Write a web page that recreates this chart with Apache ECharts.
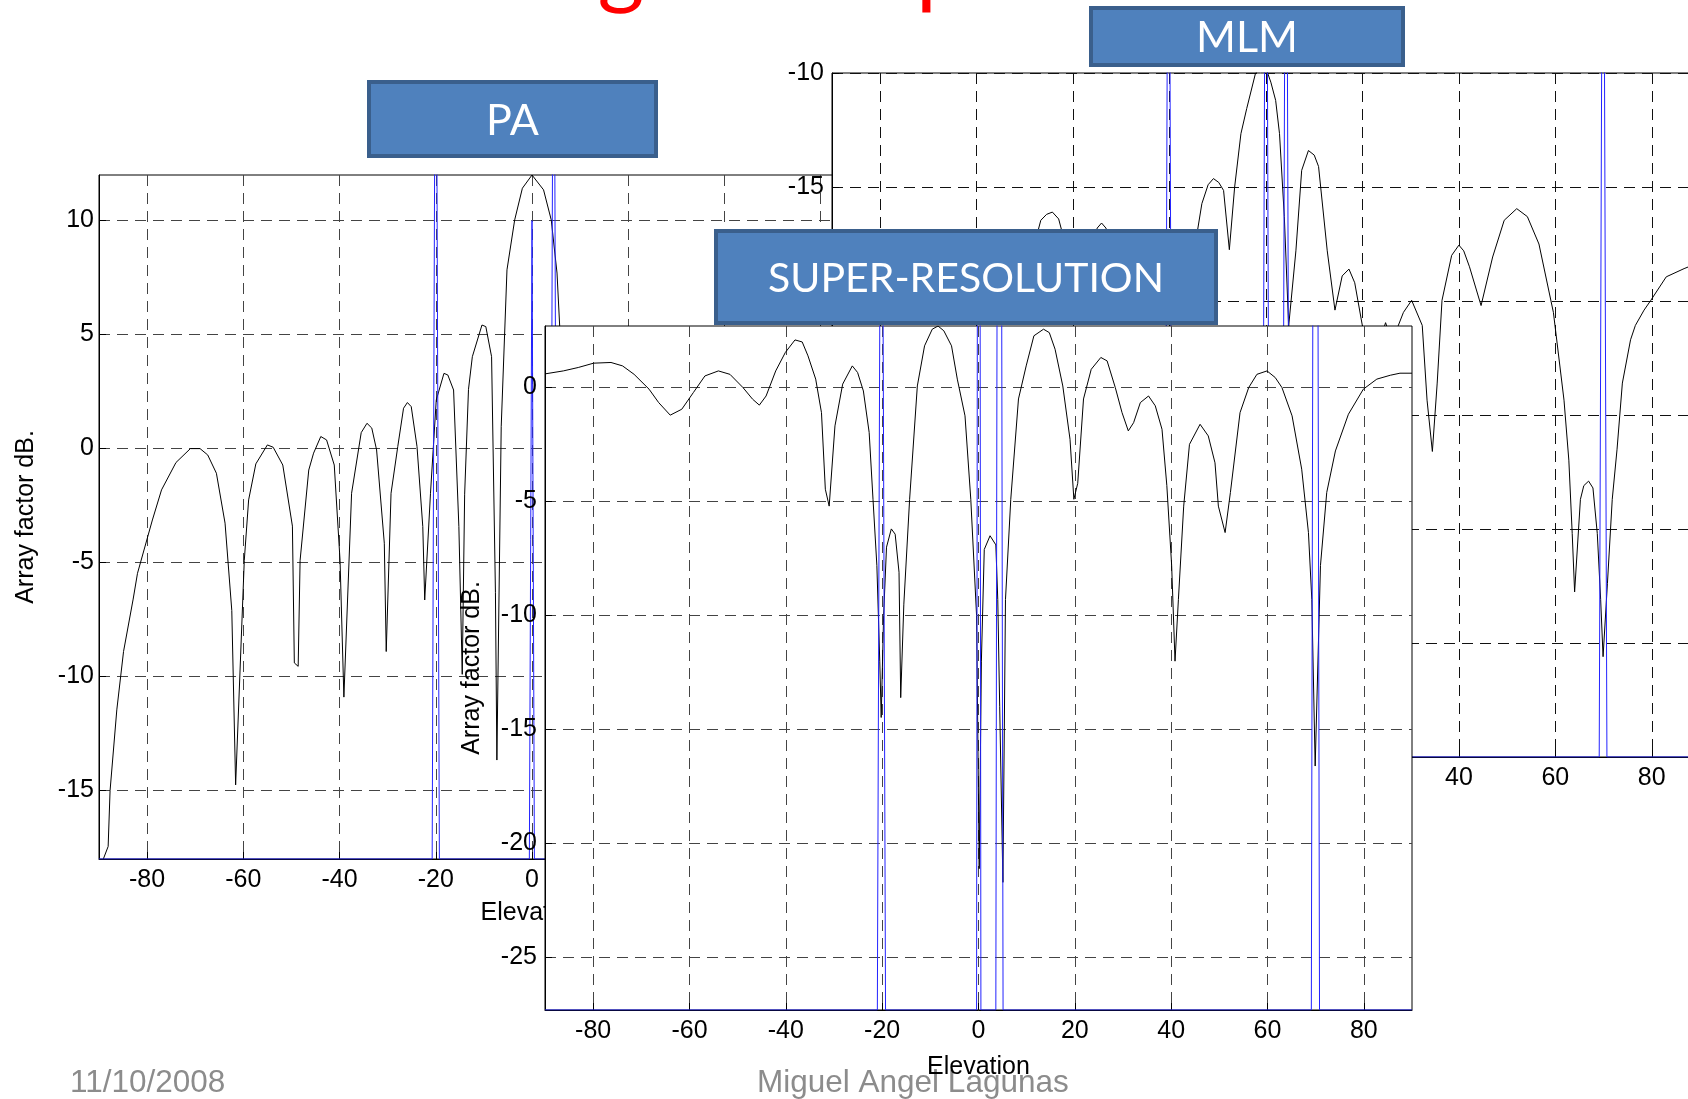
<!DOCTYPE html>
<html>
<head>
<meta charset="utf-8">
<script src="https://cdn.jsdelivr.net/npm/echarts@6.0.0/dist/echarts.min.js"></script>
<style>
html, body { margin: 0; padding: 0; background: #fff; }
.layer { position: absolute; left: 0; top: 0; width: 1688px; height: 1099px; }
</style>
</head>
<body>
<div id="pa" class="layer"></div>
<div id="mlm" class="layer"></div>
<div id="sr" class="layer"></div>
<script>
// elevation ticks, shared by the three plots
const elevTicks = [-80, -60, -40, -20, 0, 20, 40, 60, 80];
const paTicks = [-15, -10, -5, 0, 5, 10];
const mlmTicks = [-40, -35, -30, -25, -20, -15, -10];
const srTicks = [-25, -20, -15, -10, -5, 0];

// PA (delay and sum) array factor, dB
const paCurve = [
  [-89.1, -18], [-88.1, -17.45], [-87.7, -15], [-86.3, -11.46], [-84.9, -8.9], [-82.9, -6.6], [-82, -5.47],
  [-78.9, -3.13], [-77, -1.81], [-74, -0.61], [-71, 0], [-69, 0], [-67.4, -0.28], [-65.6, -1.08], [-63.8, -3.27],
  [-62.4, -7.1], [-61.6, -14.75], [-59.8, -4.9], [-58.9, -2.25], [-57.4, -0.67], [-55, 0.16], [-53.8, 0.06],
  [-51.8, -0.72], [-49.8, -3.4], [-49.4, -9.4], [-48.6, -9.55], [-48.2, -4.9], [-46.4, -0.94], [-45.4, -0.2],
  [-43.9, 0.53], [-42.7, 0.38], [-41.1, -0.72], [-39.9, -4.9], [-39.1, -10.9], [-37.5, -1.96], [-35.5, 0.7],
  [-34.3, 1.11], [-33.3, 0.9], [-32.3, -0.06], [-30.7, -4.15], [-30.3, -8.9], [-29.3, -1.96], [-27.9, 0.09],
  [-26.7, 1.77], [-25.9, 2.02], [-25.1, 1.84], [-23.9, 0.09], [-22.7, -3.42], [-22.3, -6.64], [-21.1, -1.96],
  [-19.9, 2.13], [-18.3, 3.3], [-17.5, 3.23], [-16.3, 2.57], [-15.2, -3.42], [-14.8, -7.08], [-14.5, -9.9],
  [-14, -2], [-13.2, 2.6], [-12.4, 4.03], [-10.4, 5.42], [-9.6, 5.35], [-8.4, 4.03], [-7.6, -6.3], [-7.3, -13.66],
  [-6.4, 0.96], [-5.2, 7.84], [-3.6, 10.03], [-2, 11.42], [0, 12], [2.4, 11.35], [4, 10.03], [5.2, 7.7],
  [6.2, 3.5], [7, -3]
];
const paTruth = [
  [-90, -18], [-20.75, -18], [-20, 27], [-19.25, -18], [-0.55, -18], [0, 10], [0.5, -18],
  [3.75, -18], [4.5, 27], [5.25, -18], [69.25, -18], [70, 27], [70.75, -18], [90, -18]
];

// MLM (Capon) spectrum, dB
const mlmCurve = [
  [-48, -17.5], [-46.7, -16.46], [-45.5, -16.2], [-44.3, -16.1], [-43, -16.4], [-42, -17.2],
  [-36, -17.5], [-35, -16.8], [-34.1, -16.58], [-33.2, -16.8], [-32, -17.5],
  [-14.5, -17.3], [-13.3, -15.73], [-12, -14.9], [-10.9, -14.63], [-9.8, -14.8], [-8.8, -15.15], [-7.6, -17.75],
  [-6.5, -15], [-5.2, -12.66], [-4, -11.56], [-2.2, -10.03], [-1, -9.7], [0, -9.8], [1, -10.4], [2, -11.2],
  [2.8, -12.66], [3.8, -16.3], [4.7, -21.1], [6.2, -17.8], [7.4, -14.27], [8.8, -13.4], [10, -13.6],
  [10.9, -14.1], [12.7, -17.8], [14.3, -20.4], [15.8, -18.9], [17.2, -18.6], [18.4, -19.2], [20, -21.1],
  [23.8, -21.6], [24.8, -20.95], [25.8, -21.6], [27.2, -21.2], [28.5, -20.5], [30.2, -19.97], [32.4, -21.07],
  [33.4, -24.35], [34.5, -26.6], [35.5, -23.6], [36.5, -19.97], [38.5, -18], [40, -17.55], [41, -17.8],
  [42.2, -18.5], [44.6, -20.2], [47, -18.07], [49.4, -16.46], [52, -15.95], [54.2, -16.3], [56.6, -17.5],
  [59.6, -20.5], [61.8, -24.35], [62.8, -26.98], [63.5, -30.2], [64, -32.76], [65.2, -28.7], [65.9, -28.1],
  [66.9, -27.9], [67.8, -28.2], [68.7, -30.2], [69.4, -33.1], [69.9, -35.6], [70.8, -32.4], [71.8, -28.7],
  [72.8, -26.5], [73.9, -23.6], [75.6, -21.7], [76.6, -21.07], [78.4, -20.4], [79.8, -19.97], [83, -18.94],
  [86.7, -18.58], [90, -18.3]
];
const mlmTruth = [
  [-90, -40], [-21, -40], [-20.2, 8], [-19.4, -40], [-0.8, -40], [0, 8], [0.8, -40],
  [3.35, -40], [4.15, 8], [4.95, -40], [69.1, -40], [69.9, 8], [70.7, -40], [90, -40]
];

// super-resolution spectrum, dB
const srCurve = [
  [-90, 0.6], [-86.2, 0.73], [-83.1, 0.88], [-79.9, 1.07], [-76.3, 1.1], [-73.9, 0.95], [-71.5, 0.58],
  [-68.4, -0.07], [-66.4, -0.66], [-64, -1.21], [-61.6, -0.95], [-59.2, -0.22], [-56.8, 0.51], [-54, 0.73],
  [-51.6, 0.58], [-48.9, 0], [-46.9, -0.51], [-45.5, -0.77], [-44.1, -0.37], [-42.1, 0.73], [-40.1, 1.54],
  [-38.1, 2.09], [-36.6, 2.0], [-35.4, 1.39], [-33.8, 0.37], [-32.6, -1.1], [-31.8, -4.46], [-31, -5.2],
  [-29.8, -1.68], [-28.2, 0.15], [-26.2, 0.95], [-25.1, 0.66], [-23.9, -0.15], [-22.7, -1.97], [-21.9, -4.9],
  [-21.1, -7.8], [-20.5, -12], [-20.2, -14.47], [-19.7, -10], [-19.1, -7.0], [-18.1, -6.2], [-17.3, -6.43],
  [-16.5, -8.1], [-16.15, -13.6], [-15.5, -9.5], [-14.3, -4.9], [-12.7, 0.07], [-11.2, 1.83], [-9.6, 2.56],
  [-8.4, 2.7], [-7.2, 2.49], [-5.6, 1.83], [-4.4, 0.37], [-2.8, -1.24], [-1.6, -4.9], [-0.4, -10],
  [0.15, -21.1], [0.6, -12], [1.2, -7.1], [2.4, -6.5], [3.6, -6.9], [4, -9.3], [4.4, -14], [5.07, -21.7],
  [5.6, -9.3], [6.7, -4.9], [8.3, -0.5], [9.9, 0.95], [11.5, 2.27], [13.5, 2.56], [14.7, 2.41], [15.9, 1.68],
  [17.5, 0.07], [19, -2.27], [19.8, -4.9], [20.6, -4.2], [21.8, -0.5], [23.4, 0.8], [25.4, 1.32], [26.7, 1.17],
  [28.4, 0], [29.8, -1.1], [31.1, -1.9], [32.2, -1.54], [33.6, -0.66], [35.3, -0.37], [36.7, -0.8],
  [38.1, -1.83], [39.1, -4.3], [40.1, -7.8], [40.8, -12.0], [41.5, -9.3], [42.6, -5.2], [43.8, -2.49],
  [46, -1.61], [47.7, -2.12], [49.1, -3.3], [49.8, -5.2], [51.2, -6.36], [52.3, -4.6], [54.3, -1.1],
  [56.1, 0], [57.8, 0.58], [59.9, 0.73], [61.6, 0.44], [63, 0], [65.1, -1.24], [67.1, -3.58], [68.5, -6.36],
  [69.2, -9.3], [69.9, -16.6], [71, -7.8], [72.3, -4.6], [74.1, -2.78], [76.8, -1.17], [79.9, -0.07],
  [82.7, 0.37], [85.5, 0.54], [87.5, 0.63], [90, 0.63]
];
const srTruth = [
  [-90, -27.3], [-21, -27.3], [-20.15, 23.7], [-19.3, -27.3], [-0.4, -27.3], [0.05, 60], [0.5, -27.3],
  [3.6, -27.3], [4.3, 60], [5.1, -27.3], [69.1, -27.3], [69.95, 57], [70.8, -27.3], [90, -27.3]
];

const FONT = '"Liberation Sans", Arial, sans-serif';
const BOX_FONT = 'Lato, "Open Sans", sans-serif';

function titleBox(x, y, w, h, text, size) {
  return {
    type: 'group',
    children: [
      { type: 'rect', shape: { x: x + 2, y: y + 2, width: w - 4, height: h - 4 },
        style: { fill: '#4F81BD', stroke: '#3A5F8C', lineWidth: 4 } },
      { type: 'text', x: x + w / 2, y: y + h / 2 + 2,
        style: { text: text, fill: '#fff', fontSize: size, fontFamily: BOX_FONT, align: 'center', verticalAlign: 'middle' } }
    ]
  };
}

function plainText(x, y, text, size, color, align) {
  return {
    type: 'text', x: x, y: y,
    style: { text: text, fill: color, fontSize: size, fontFamily: FONT, align: align || 'left', verticalAlign: 'middle' }
  };
}

// 一个 matlab 风格的图
function plot(dom, p) {
  let chart = echarts.init(dom, null, { renderer: 'canvas' });
  let split = { show: true, lineStyle: { color: p.gridColor, type: [11, 7], width: 1 } };
  let label = { color: '#000', fontSize: 25, fontFamily: FONT };
  chart.setOption({
    backgroundColor: p.bg || 'transparent',
    animation: false,
    grid: Object.assign({
      show: true, backgroundColor: '#fff', borderColor: '#000', borderWidth: 1,
      containLabel: false, outerBoundsMode: 'none'
    }, p.grid),
    xAxis: {
      type: 'value', min: -90, max: 90,
      axisLine: { show: true, onZero: false, lineStyle: { color: '#000', width: 1 } },
      axisTick: { show: true, inside: true, length: 7, customValues: elevTicks, lineStyle: { color: '#000' } },
      axisLabel: Object.assign({ customValues: elevTicks, margin: 9, showMinLabel: true, showMaxLabel: true }, label),
      splitLine: split,
      name: 'Elevation', nameLocation: 'middle', nameGap: p.xNameGap, nameTextStyle: label
    },
    yAxis: {
      type: 'value', min: p.yMin, max: p.yMax,
      axisLine: { show: true, onZero: false, lineStyle: { color: '#000', width: 1 } },
      axisTick: { show: true, inside: true, length: 7, customValues: p.yTicks, lineStyle: { color: '#000' } },
      axisLabel: Object.assign({ customValues: p.yTicks, margin: p.yGap, showMinLabel: true, showMaxLabel: true }, label),
      splitLine: split,
      name: 'Array factor dB.', nameLocation: 'middle', nameGap: 60, nameTextStyle: label
    },
    series: [
      { type: 'line', data: p.curve, showSymbol: false, symbol: 'none', silent: true,
        lineStyle: { color: '#000', width: 1 } },
      { type: 'line', data: p.truth, showSymbol: false, symbol: 'none', silent: true,
        lineStyle: { color: '#2323ff', width: 1 } }
    ],
    graphic: p.graphic || []
  });
  return chart;
}

plot(document.getElementById('pa'), {
  bg: '#fff',
  grid: { left: 99, top: 175, width: 866, height: 684 },
  yMin: -18, yMax: 12, yTicks: paTicks, yGap: 5, gridColor: '#444', xNameGap: 42,
  curve: paCurve, truth: paTruth,
  graphic: [
    { type: 'text', x: 621, y: -32, style: { text: 'g', fill: '#ff0000', fontSize: 90, fontFamily: BOX_FONT, align: 'center', verticalAlign: 'middle' } },
    { type: 'text', x: 916, y: -32, style: { text: 'p', fill: '#ff0000', fontSize: 90, fontFamily: BOX_FONT, align: 'left', verticalAlign: 'middle' } },
    plainText(70, 1083, '11/10/2008', 31.5, '#8C8C8C'),
    plainText(757, 1083, 'Miguel Angel Lagunas', 31.5, '#8C8C8C')
  ]
});

plot(document.getElementById('mlm'), {
  grid: { left: 832, top: 73, width: 868, height: 684 },
  yMin: -40, yMax: -10, yTicks: mlmTicks, yGap: 8, gridColor: '#111', xNameGap: 42,
  curve: mlmCurve, truth: mlmTruth
});

plot(document.getElementById('sr'), {
  grid: { left: 545, top: 326, width: 867, height: 684 },
  yMin: -27.3, yMax: 2.7, yTicks: srTicks, yGap: 8, gridColor: '#444', xNameGap: 45,
  curve: srCurve, truth: srTruth,
  graphic: [
    titleBox(367, 80, 291, 78, 'PA', 43),
    titleBox(1089, 6, 316, 61, 'MLM', 43),
    titleBox(714, 229, 504, 96, 'SUPER-RESOLUTION', 41)
  ]
});
</script>
</body>
</html>
